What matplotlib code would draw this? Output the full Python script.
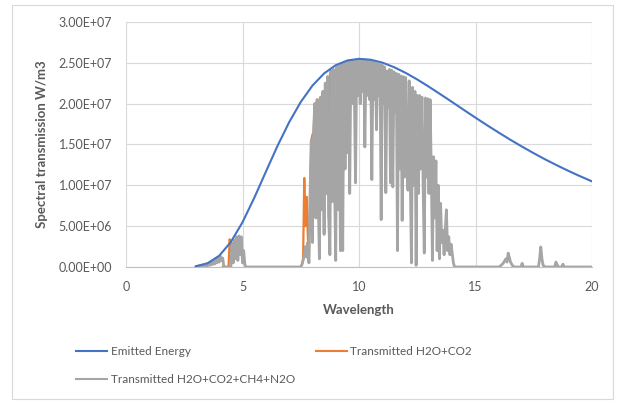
import numpy as np
import matplotlib
matplotlib.use("Agg")
import matplotlib.pyplot as plt
from matplotlib.patches import Rectangle
from matplotlib.ticker import FuncFormatter, MultipleLocator

plt.rcParams["font.family"] = ["Lato", "DejaVu Sans"]

# emitted (blackbody) energy, W/m3
WAVE_EMIT = [3.0, 3.5, 4.0, 4.5, 5.0, 5.5, 6.0, 6.5, 7.0, 7.5, 8.0, 8.5, 9.0, 9.5,
             10.0, 10.5, 11.0, 11.5, 12.0, 12.5, 13.0, 13.5, 14.0, 14.5, 15.0, 15.5,
             16.0, 16.5, 17.0, 17.5, 18.0, 18.5, 19.0, 19.5, 20.0]
EMITTED = [9.0e4, 4.5e5, 1.38e6, 3.06e6, 5.48e6, 8.44e6, 1.165e7, 1.482e7, 1.772e7,
           2.021e7, 2.221e7, 2.370e7, 2.471e7, 2.529e7, 2.549e7, 2.538e7, 2.503e7,
           2.447e7, 2.377e7, 2.296e7, 2.207e7, 2.114e7, 2.019e7, 1.923e7, 1.828e7,
           1.735e7, 1.645e7, 1.557e7, 1.473e7, 1.393e7, 1.316e7, 1.244e7, 1.175e7,
           1.110e7, 1.048e7]

# transmitted H2O+CO2+CH4+N2O, values in 1e6 W/m3
WAVE_LOW = [3.0, 3.05, 3.1, 3.15, 3.2, 3.25, 3.3, 3.35, 3.4, 3.45, 3.5, 3.55, 3.6,
            3.65, 3.7, 3.75, 3.8, 3.85, 3.9, 3.95, 4.0, 4.05, 4.1, 4.15, 4.2, 4.5,
            4.55, 4.6, 4.65, 4.7, 4.75, 4.8, 4.85, 4.9, 4.95, 5.0, 5.05, 5.1, 5.15]
GRAY_LOW = [0.0, 0.1, 0.02, 0.15, 0.05, 0.22, 0.08, 0.3, 0.12, 0.4, 0.15, 0.5, 0.2,
            0.62, 0.3, 0.75, 0.35, 0.9, 0.5, 1.1, 0.6, 1.3, 0.8, 1.1, 0.0, 0.0,
            2.9, 0.5, 3.3, 1.0, 3.7, 0.8, 3.8, 1.5, 3.7, 0.5, 2.0, 0.3, 0.0]

# window band 7.50 .. 14.10 um sampled every 0.05 um
BAND_START, BAND_STEP = 7.5, 0.05
GRAY_BAND = [
    0.0, 0.3, 0.8, 1.5, 2.5, 1.2, 3.0, 0.5,                        # 7.50-7.85
    9.0, 15.5, 3.0, 16.5, 20.0, 6.0, 20.5, 8.0, 1.0, 20.8,         # 7.90-8.35
    7.0, 21.5, 4.0, 22.5, 9.0, 23.3, 6.0, 1.5, 24.0, 8.0,          # 8.40-8.85
    24.2, 10.0, 0.8, 24.5, 7.0, 24.6, 2.0, 24.8, 2.0, 25.0,        # 8.90-9.35
    12.0, 25.1, 14.0, 25.2, 9.0, 25.3, 20.0, 25.3, 21.0, 10.3,     # 9.40-9.85
    25.35, 21.0, 25.4, 20.0, 25.4, 21.5, 25.35, 14.7, 25.3, 21.0,  # 9.90-10.35
    25.25, 20.5, 25.2, 10.7, 25.1, 20.5, 25.0, 16.8, 24.9, 21.0,   # 10.40-10.85
    24.8, 5.8, 24.7, 20.0, 24.5, 9.1, 24.0, 19.5, 24.2, 10.3,      # 10.90-11.35
    24.1, 9.8, 23.9, 19.0, 23.7, 2.0, 23.6, 12.0, 23.4, 5.7,       # 11.40-11.85
    23.3, 11.0, 23.2, 13.0, 9.4, 22.8, 11.0, 0.5, 22.0, 10.0,      # 11.90-12.35
    21.5, 0.2, 21.0, 9.0, 21.0, 12.0, 20.8, 10.0, 1.7, 20.7,       # 12.40-12.85
    11.0, 20.6, 9.0, 20.5, 12.0, 0.8, 13.5, 6.0, 13.0, 2.0,        # 12.90-13.35
    10.0, 1.0, 7.8, 3.0, 4.5, 1.5, 4.5, 7.0, 2.0, 3.7,             # 13.40-13.85
    1.5, 2.8, 1.7, 0.5, 0.0,                                       # 13.90-14.10
]

WAVE_TAIL = [16.0, 16.1, 16.2, 16.3, 16.35, 16.4, 16.45, 16.5, 16.6, 16.7, 16.95,
             17.0, 17.05, 17.7, 17.75, 17.8, 17.85, 17.9, 18.0, 18.4, 18.45, 18.5,
             18.55, 18.7, 18.75, 18.8, 20.0]
GRAY_TAIL = [0.0, 0.2, 0.5, 1.0, 0.6, 1.7, 1.2, 0.6, 0.1, 0.0, 0.0,
             0.45, 0.0, 0.0, 1.0, 2.45, 1.0, 0.2, 0.0, 0.0, 0.6, 0.3,
             0.0, 0.0, 0.35, 0.0, 0.0]

# transmitted H2O+CO2 where it differs from the full-gas curve, 1e6 W/m3
WAVE_ORANGE_A = [4.15, 4.40, 4.45, 4.50, 4.55]
ORANGE_A = [0.0, 0.0, 3.4, 2.0, 2.9]
WAVE_ORANGE_B = [7.50, 7.55, 7.60, 7.65, 7.70, 7.75, 7.80, 7.85, 7.90, 7.95, 8.00,
                 8.05, 8.10, 8.15, 8.20, 8.25, 8.30, 8.35, 8.40, 8.45, 8.50, 8.55,
                 8.60, 8.65, 8.70, 8.75, 8.80]
ORANGE_B = [0.0, 0.3, 1.0, 10.9, 5.0, 8.6, 4.0, 1.0, 9.0, 15.5, 16.2,
            16.5, 20.0, 6.0, 20.5, 8.0, 20.5, 20.8, 7.0, 21.5, 4.0, 22.5,
            9.0, 23.3, 6.0, 23.6, 24.0]

BLUE = "#4472C4"
ORANGE = "#ED7D31"
GRAY = "#A5A5A5"
TXT = "#595959"
GRID = "#D9D9D9"

band_x = np.round(BAND_START + BAND_STEP * np.arange(len(GRAY_BAND)), 2)
gray_x = np.concatenate([WAVE_LOW, [7.45], band_x, WAVE_TAIL])
gray_y = np.concatenate([GRAY_LOW, [0.0], GRAY_BAND, GRAY_TAIL]) * 1e6

fig = plt.figure(figsize=(6.18, 4.03), dpi=100)
fig.patches.append(Rectangle((0.019, 0.010), 0.973, 0.977, transform=fig.transFigure,
                             fill=False, edgecolor=GRID, lw=0.8))
ax = fig.add_axes([0.2039, 0.3375, 0.7541, 0.6079])

ax.plot(WAVE_EMIT, EMITTED, color=BLUE, lw=1.5, zorder=4, label="Emitted Energy")
for wx, wy in [(WAVE_ORANGE_A, ORANGE_A), (WAVE_ORANGE_B, ORANGE_B)]:
    ln_orange, = ax.plot(wx, np.array(wy) * 1e6, color=ORANGE, lw=1.6, zorder=2)
ln_orange.set_label("Transmitted H2O+CO2")
ax.plot(gray_x, gray_y, color=GRAY, lw=2.0, zorder=3,
        label="Transmitted H2O+CO2+CH4+N2O")

ax.set_xlim(0, 20)
ax.set_ylim(0, 3e7)
ax.xaxis.set_major_locator(MultipleLocator(5))
ax.yaxis.set_major_locator(MultipleLocator(5e6))
ax.yaxis.set_major_formatter(FuncFormatter(lambda v, p: f"{v:.2E}"))
ax.grid(True, color=GRID, lw=0.8, zorder=0)
ax.set_axisbelow(True)
for side in ["top", "right", "left"]:
    ax.spines[side].set_visible(False)
ax.spines["bottom"].set_color("#BFBFBF")
ax.spines["bottom"].set_linewidth(0.8)
ax.tick_params(length=0, labelsize=9, labelcolor=TXT, pad=10)

ax.set_xlabel("Wavelength", fontsize=9.5, fontweight="bold", color=TXT, labelpad=8)
ax.set_ylabel("Spectral transmission W/m3", fontsize=9.5, fontweight="bold", color=TXT,
              labelpad=8)

h, l = ax.get_legend_handles_labels()
order = [0, 2, 1]
leg = fig.legend([h[i] for i in order], [l[i] for i in order], ncol=2, frameon=False,
                 loc="upper left", bbox_to_anchor=(0.114, 0.155), fontsize=8.5,
                 labelcolor=TXT, borderpad=0, handlelength=2.6, handletextpad=0.3,
                 columnspacing=1.8, labelspacing=1.4)
for ln in leg.get_lines():
    ln.set_linewidth(1.5)

fig.savefig("out.png", dpi=100, facecolor="white")
